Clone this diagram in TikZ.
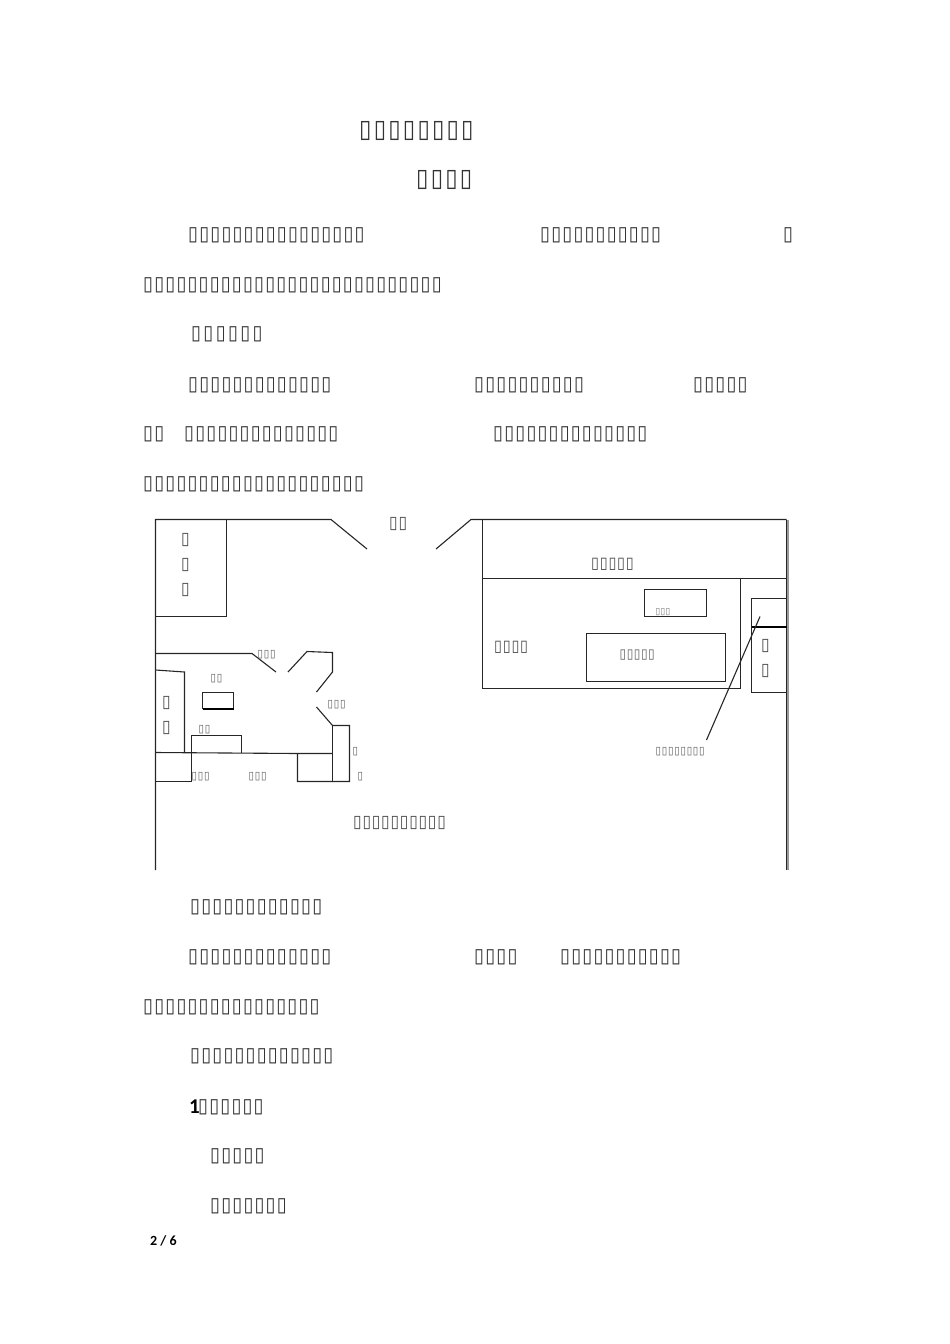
\documentclass[tikz,border=0pt]{standalone}
\usepackage{fontspec}
\usepackage{tikz}
\newfontfamily\boxfont[FakeStretch=0.9]{DejaVu Sans}
\newfontfamily\markfont{Carlito}
\newcommand{\boxsize}[2]{\boxfont\fontsize{#1}{#1}\selectfont\addfontfeature{LetterSpace=#2}}
\tikzset{
  titletext/.style={anchor=west, inner sep=0pt, font=\boxsize{25}{8.8}, text=black!80},
  bodytext/.style={anchor=west, inner sep=0pt, font=\boxsize{20}{6}, text=black!80},
  headtext/.style={anchor=west, inner sep=0pt, font=\boxsize{20}{12}, text=black!80},
  labeltext/.style={anchor=west, inner sep=0pt, font=\boxsize{17.3}{4.5}, text=black!70},
  halltext/.style={anchor=west, inner sep=0pt, font=\boxsize{16}{4.7}, text=black!70},
  midtext/.style={anchor=west, inner sep=0pt, font=\boxsize{13.3}{4}, text=black!65},
  smalltext/.style={anchor=west, inner sep=0pt, font=\boxsize{11}{7}, text=black!65},
  tinytext/.style={anchor=west, inner sep=0pt, font=\boxsize{9.3}{3.8}, text=black!55},
  marktext/.style={anchor=west, inner sep=0pt, font=\markfont\bfseries\fontsize{14}{14}\selectfont},
  numtext/.style={anchor=west, inner sep=0pt, font=\markfont\bfseries\fontsize{21}{21}\selectfont},
  wall/.style={line width=1.1pt, black!85},
  thickwall/.style={line width=1.8pt, black},
  sidewall/.style={line width=2.2pt, black!40}
}

\begin{document}
\begin{tikzpicture}[x=1pt,y=-1pt]
  \useasboundingbox (0,0) rectangle (950,1344);
  % text above the plan
  \node (title1) at (359,131) [titletext] {▯▯▯▯▯▯▯▯};
  \node (title2) at (416,180) [titletext] {▯▯▯▯};
  \node (para1a) at (188,235) [bodytext] {▯▯▯▯▯▯▯▯▯▯▯▯▯▯▯▯};
  \node (para1b) at (540,235) [bodytext] {▯▯▯▯▯▯▯▯▯▯▯};
  \node (para1c) at (783,235) [bodytext] {▯};
  \node (para1d) at (143,285) [bodytext] {▯▯▯▯▯▯▯▯▯▯▯▯▯▯▯▯▯▯▯▯▯▯▯▯▯▯▯};
  \node (head1) at (191,334) [headtext] {▯▯▯▯▯▯};
  \node (para2a) at (188,385) [bodytext] {▯▯▯▯▯▯▯▯▯▯▯▯▯};
  \node (para2b) at (474,385) [bodytext] {▯▯▯▯▯▯▯▯▯▯};
  \node (para2c) at (693,385) [bodytext] {▯▯▯▯▯};
  \node (para2d) at (143,434) [bodytext] {▯▯};
  \node (para2e) at (184,434) [bodytext] {▯▯▯▯▯▯▯▯▯▯▯▯▯▯};
  \node (para2f) at (493,434) [bodytext] {▯▯▯▯▯▯▯▯▯▯▯▯▯▯};
  \node (para2g) at (143,484) [bodytext] {▯▯▯▯▯▯▯▯▯▯▯▯▯▯▯▯▯▯▯▯};

  % left half of the plan
  \draw[wall] (155.5,870) to (155.5,519.5) to (331,519.5) to (367,549);
  \draw[wall] (226.5,519.5) to (226.5,616.5) to (155.5,616.5);
  \draw[wall] (155.5,653.5) to (252,653.5) to (276,672);
  \draw[wall] (288,672) to (307,651.5) to (332.5,652.5) to (332.5,672) to (316.5,692);
  \draw[wall] (316.5,707) to (332.5,725.5) to (349.5,725.5) to (349.5,781.5) to (297.5,781.5) to (297.5,753.5);
  \draw[wall] (332.5,725.5) to (332.5,781.5);
  \draw[wall] (155.5,752.5) to (297.5,753.5) to (332.5,753.5);
  \draw[wall] (155.5,670) to (184.5,672) to (184.5,752.5);
  \draw[wall] (155.5,781.5) to (191.5,781.5) to (191.5,735.5) to (241.5,735.5) to (241.5,752.5);
  \draw[wall] (202.5,709) to (202.5,692.5) to (233.5,692.5) to (233.5,709);
  \draw[thickwall] (202.5,709) to (233.5,709);

  % right half of the plan
  \draw[wall] (436,549) to (471,519.5) to (786.5,519.5);
  \draw[wall] (482.5,519.5) to (482.5,688.5) to (740.5,688.5) to (740.5,578.5);
  \draw[wall] (482.5,578.5) to (786.5,578.5);
  \draw[sidewall] (788,519.5) to (788,870);
  \draw[wall] (786.5,519.5) to (786.5,870);
  \draw[wall] (644.5,589.5) rectangle (706.5,616.5);
  \draw[wall] (586.5,633.5) rectangle (725.5,681.5);
  \draw[wall] (786.5,598.5) to (751.5,598.5) to (751.5,692.5) to (786.5,692.5);
  \draw[thickwall] (751.5,627) to (786.5,627);
  \coordinate (leadtop) at (760,616.5);
  \coordinate (leadend) at (706.5,740);
  \draw[wall] (leadtop) to (leadend);

  % labels of the plan
  \node (gate) at (389,524) [labeltext] {▯▯};
  \node (roomA1) at (181,540) [labeltext] {▯};
  \node (roomA2) at (181,565) [labeltext] {▯};
  \node (roomA3) at (181,590) [labeltext] {▯};
  \node (roomB) at (257.5,655) [smalltext] {▯▯▯};
  \node (roomC) at (210.5,679) [smalltext] {▯▯};
  \node (roomD) at (327.5,705) [smalltext] {▯▯▯};
  \node (roomE) at (198.5,730) [smalltext] {▯▯};
  \node (roomF1) at (162,703) [labeltext] {▯};
  \node (roomF2) at (162,728) [labeltext] {▯};
  \node (roomG1) at (352.5,752) [smalltext] {▯};
  \node (roomG2) at (357.5,777) [smalltext] {▯};
  \node (roomH) at (191.5,777) [smalltext] {▯▯▯};
  \node (roomI) at (248.5,777) [smalltext] {▯▯▯};
  \node (yard) at (353,823) [labeltext] {▯▯▯▯▯▯▯▯▯▯};
  \node (hallA) at (591,564) [halltext] {▯▯▯▯▯};
  \node (hallB) at (494,647) [halltext] {▯▯▯▯};
  \node (deskA) at (655.5,612) [tinytext] {▯▯▯};
  \node (deskB) at (619.5,655) [midtext] {▯▯▯▯▯};
  \node (sideA1) at (761,646) [labeltext] {▯};
  \node (sideA2) at (761,671) [labeltext] {▯};
  \node (leadlabel) at (655.5,752) [smalltext] {▯▯▯▯▯▯▯▯};

  % text below the plan
  \node (head2) at (190,907) [bodytext] {▯▯▯▯▯▯▯▯▯▯▯▯};
  \node (para3a) at (188,957) [bodytext] {▯▯▯▯▯▯▯▯▯▯▯▯▯};
  \node (para3b) at (474,957) [bodytext] {▯▯▯▯};
  \node (para3c) at (560,957) [bodytext] {▯▯▯▯▯▯▯▯▯▯▯};
  \node (para3d) at (143,1007) [bodytext] {▯▯▯▯▯▯▯▯▯▯▯▯▯▯▯▯};
  \node (head3) at (190,1056) [bodytext] {▯▯▯▯▯▯▯▯▯▯▯▯▯};
  \node (numA) at (189,1107) [numtext] {1};
  \node (item1) at (198,1107) [bodytext] {▯▯▯▯▯▯};
  \node (item2) at (210,1156) [bodytext] {▯▯▯▯▯};
  \node (item3) at (210,1206) [bodytext] {▯▯▯▯▯▯▯};
  \node (pagenum) at (150,1241) [marktext] {2 / 6};
\end{tikzpicture}
\end{document}
